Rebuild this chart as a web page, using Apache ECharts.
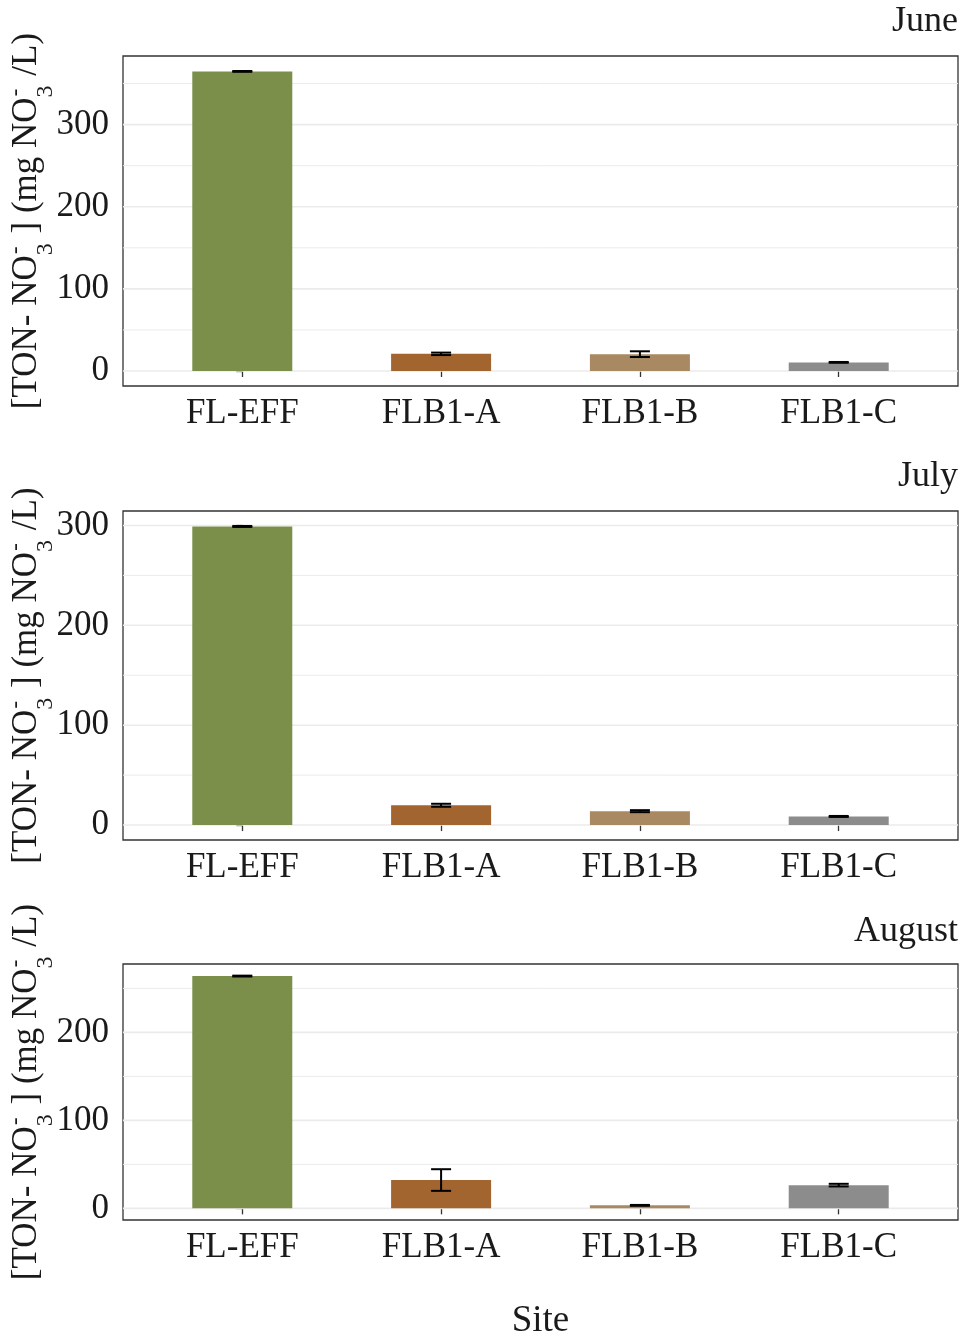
<!DOCTYPE html>
<html>
<head>
<meta charset="utf-8">
<script src="https://cdn.jsdelivr.net/npm/echarts@6/dist/echarts.min.js"></script>
<style>
  html, body { margin: 0; padding: 0; background: #fff; }
  #chart { width: 964px; height: 1337px; }
</style>
</head>
<body>
<div id="chart"></div>
<script>
// Nitrate concentration by site, one panel per month (mean ± error)
const sites = ['FL-EFF', 'FLB1-A', 'FLB1-B', 'FLB1-C'];
const months = ['June', 'July', 'August'];

const juneMean = [364.8, 20.9, 20.5, 10.5];
const juneErr = [0.5, 1.5, 3.5, 0.5];
const julyMean = [299.0, 19.8, 13.9, 8.6];
const julyErr = [0.5, 1.5, 1.0, 0.5];
const augustMean = [264.0, 32.2, 3.4, 26.4];
const augustErr = [0.5, 12.3, 0.5, 1.5];

const juneTicks = [0, 100, 200, 300];
const julyTicks = [0, 100, 200, 300];
const augustTicks = [0, 100, 200];

const juneGridValues = [0, 50, 100, 150, 200, 250, 300, 350];
const julyGridValues = [0, 50, 100, 150, 200, 250, 300];
const augustGridValues = [0, 50, 100, 150, 200, 250];

const barColors = ['#7b8f4b', '#a3652f', '#a88962', '#8c8c8c'];

const FONT = '"Liberation Serif", "Times New Roman", serif';
const TEXT_COLOR = '#1a1a1a';

const panels = [
  { name: months[0], mean: juneMean, err: juneErr, ticks: juneTicks, grid: juneGridValues, top: 56, height: 330, titleY: 19 },
  { name: months[1], mean: julyMean, err: julyErr, ticks: julyTicks, grid: julyGridValues, top: 511, height: 329, titleY: 474 },
  { name: months[2], mean: augustMean, err: augustErr, ticks: augustTicks, grid: augustGridValues, top: 964, height: 256, titleY: 929 }
];

const PLOT_LEFT = 123;
const PLOT_WIDTH = 835;

const chart = echarts.init(document.getElementById('chart'), null, { renderer: 'canvas' });

const grids = [], xAxes = [], yAxes = [], series = [], graphics = [];

// text measuring for the rotated axis title
const mctx = document.createElement('canvas').getContext('2d');
function textWidth(str, size) {
  mctx.font = size + 'px ' + FONT;
  return mctx.measureText(str).width;
}

function yTitle(cx, cy) {
  const main = 35, small = 24;
  const pieces = [
    { t: '[TON- NO' }, { stack: true }, { t: ' ] (mg NO' }, { stack: true }, { t: ' /L)' }
  ];
  const stackW = Math.max(textWidth('3', small), textWidth('-', small)) + 1;
  let total = 0;
  pieces.forEach(p => { p.w = p.stack ? stackW : textWidth(p.t, main); total += p.w; });
  let x = -total / 2;
  const children = [];
  pieces.forEach(p => {
    if (p.stack) {
      children.push({ type: 'text', x: x, y: 19,
        style: { text: '3', font: small + 'px ' + FONT, fill: TEXT_COLOR, align: 'left', verticalAlign: 'middle' } });
      children.push({ type: 'text', x: x + 1, y: -11,
        style: { text: '-', font: small + 'px ' + FONT, fill: TEXT_COLOR, align: 'left', verticalAlign: 'middle' } });
    } else {
      children.push({ type: 'text', x: x, y: 0,
        style: { text: p.t, font: main + 'px ' + FONT, fill: TEXT_COLOR, align: 'left', verticalAlign: 'middle' } });
    }
    x += p.w;
  });
  return { type: 'group', x: cx, y: cy, rotation: Math.PI / 2, children: children };
}

panels.forEach((p, i) => {
  const peak = Math.max(...p.mean.map((m, k) => m + p.err[k]));
  const pad = peak * 0.05;

  grids.push({
    left: PLOT_LEFT, width: PLOT_WIDTH, top: p.top, height: p.height,
    show: true, borderColor: '#333333', borderWidth: 1.3, backgroundColor: '#ffffff'
  });

  xAxes.push({
    type: 'value', gridIndex: i, min: -0.6, max: 3.6,
    axisLine: { show: false },
    splitLine: { show: false },
    axisTick: { show: true, length: 6, customValues: [0, 1, 2, 3], lineStyle: { color: '#333333', width: 1.3 } },
    axisLabel: {
      customValues: [0, 1, 2, 3], margin: 10,
      formatter: v => sites[Math.round(v)] || '',
      fontFamily: FONT, fontSize: 35, color: TEXT_COLOR
    }
  });

  yAxes.push({
    type: 'value', gridIndex: i, min: -pad, max: peak + pad,
    axisLine: { show: false },
    splitLine: { show: false },
    axisTick: { show: true, length: 6, customValues: p.ticks, lineStyle: { color: '#333333', width: 1.3 } },
    axisLabel: {
      customValues: p.ticks, margin: 14,
      fontFamily: FONT, fontSize: 35, color: TEXT_COLOR
    }
  });

  // horizontal panel grid lines (major at ticks, minor halfway)
  series.push({
    type: 'custom', xAxisIndex: i, yAxisIndex: i, z: 1, silent: true,
    data: p.grid.map(v => [v]),
    renderItem: (params, api) => {
      const v = api.value(0);
      const cs = params.coordSys;
      const y = api.coord([0, v])[1];
      const major = v % 100 === 0;
      return {
        type: 'line',
        shape: { x1: cs.x, y1: y, x2: cs.x + cs.width, y2: y },
        style: { stroke: '#ebebeb', lineWidth: major ? 1.6 : 1.0 }
      };
    }
  });

  series.push({
    type: 'bar', xAxisIndex: i, yAxisIndex: i, z: 2, barWidth: 100,
    data: p.mean.map((m, k) => ({ value: [k, m], itemStyle: { color: barColors[k] } })),
    itemStyle: { borderWidth: 0 }
  });

  series.push({
    type: 'custom', xAxisIndex: i, yAxisIndex: i, z: 3,
    data: p.mean.map((m, k) => [k, m, p.err[k]]),
    renderItem: (params, api) => {
      const x = api.value(0), m = api.value(1), e = api.value(2);
      const hi = api.coord([x, m + e]);
      const lo = api.coord([x, m - e]);
      const half = 10;
      const st = { stroke: '#000000', lineWidth: 2 };
      return {
        type: 'group',
        children: [
          { type: 'line', shape: { x1: hi[0], y1: hi[1], x2: lo[0], y2: lo[1] }, style: st },
          { type: 'line', shape: { x1: hi[0] - half, y1: hi[1], x2: hi[0] + half, y2: hi[1] }, style: st },
          { type: 'line', shape: { x1: lo[0] - half, y1: lo[1], x2: lo[0] + half, y2: lo[1] }, style: st }
        ]
      };
    }
  });

  graphics.push({
    type: 'text', right: 6, top: p.titleY - 15,
    style: { text: p.name, font: '36px ' + FONT, fill: TEXT_COLOR }
  });

  graphics.push(yTitle(27, p.top + p.height / 2));
});

graphics.push({
  type: 'text', x: PLOT_LEFT + PLOT_WIDTH / 2, y: 1321,
  style: { text: 'Site', font: '37px ' + FONT, fill: TEXT_COLOR, align: 'center', verticalAlign: 'middle' }
});

chart.setOption({
  animation: false,
  backgroundColor: '#ffffff',
  grid: grids,
  xAxis: xAxes,
  yAxis: yAxes,
  series: series,
  graphic: graphics
});
</script>
</body>
</html>
